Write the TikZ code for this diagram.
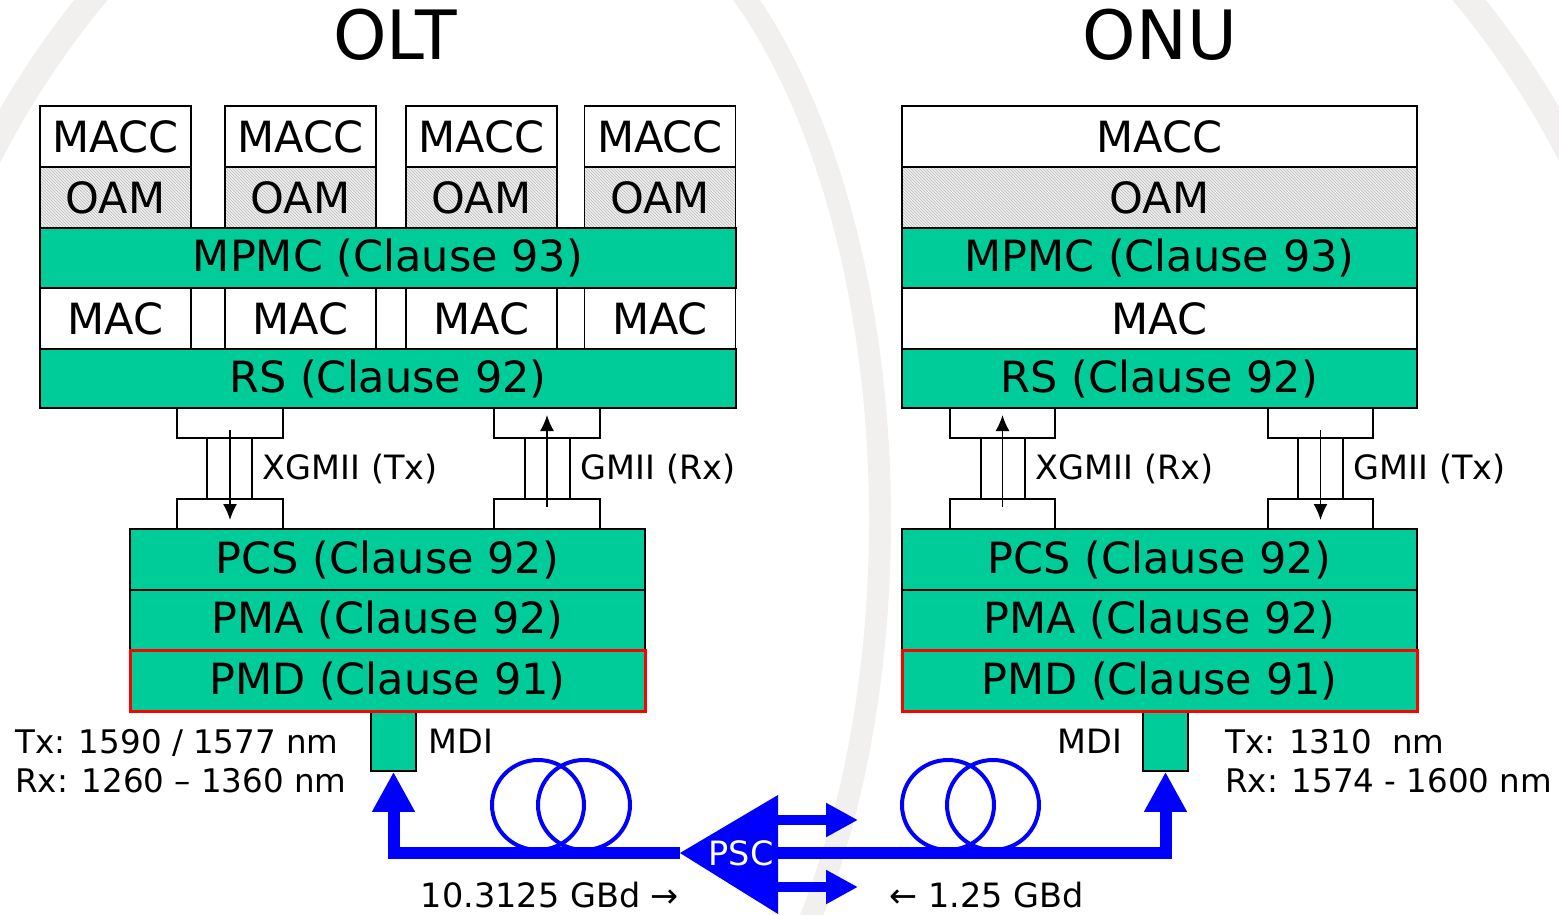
\documentclass[tikz,border=0pt]{standalone}
\usepackage{fontspec}
\setmainfont{DejaVu Sans}
\definecolor{ponGreen}{RGB}{0,204,153}
\definecolor{fibreBlue}{RGB}{0,0,255}
\definecolor{markRed}{RGB}{255,0,0}
\definecolor{wmGray}{RGB}{241,240,238}
\usetikzlibrary{arrows.meta, positioning, patterns}

\begin{document}
\begin{tikzpicture}[x=1pt, y=-1pt,
  layer/.style={draw, line width=1.5pt, minimum height=61pt, inner sep=0pt, font=\fontsize{43}{50}\selectfont},
  white layer/.style={layer, fill=white},
  green layer/.style={layer, fill=ponGreen},
  oam layer/.style={layer, preaction={fill=gray!12}, pattern=north west lines, pattern color=gray!55},
  pmd layer/.style={green layer, draw=markRed, line width=3pt},
  port/.style={draw, line width=1.5pt, fill=white, minimum width=106pt, minimum height=30pt, inner sep=0pt},
  pipe/.style={draw, line width=1.5pt, minimum width=45pt, minimum height=61pt, inner sep=0pt},
  sig/.style={line width=1.5pt, -{Latex[length=16pt, width=14pt]}},
  lbl/.style={inner sep=0pt, font=\fontsize{33.5}{39}\selectfont},
  wave/.style={inner sep=0pt, align=left, anchor=west, font=\fontsize{32.5}{39}\selectfont},
  title/.style={inner sep=0pt, font=\fontsize{68}{74}\selectfont},
  fibre/.style={fibreBlue, line width=12pt, line join=miter},
  coil/.style={fibreBlue, line width=4pt}]
  \useasboundingbox (0,0) rectangle (1559,914);

  % watermark
  \begin{scope}
    \clip (0,0) rectangle (1559,914);
    \draw[wmGray, line width=26pt] (780,560) circle[radius=888pt];
    \draw[wmGray, line width=22pt] (560,-120) arc[start angle=90, end angle=-90, x radius=320pt, y radius=640pt];
  \end{scope}

  \node[title] (oltTitle) at (395,35) {OLT};
  \node[title] (onuTitle) at (1160,35) {ONU};

  % OLT stack
  \foreach \cx [count=\i] in {115.5,300.5,481.5,660} {
    \node[white layer, minimum width=151pt] (oltMacc\i) at (\cx,136.5) {MACC};
    \node[oam layer, minimum width=151pt] (oltOam\i) at (\cx,197.5) {OAM};
    \node[white layer, minimum width=151pt] (oltMac\i) at (\cx,318.5) {MAC};
  }
  \node[green layer, minimum width=696pt, minimum height=60pt] (oltMpmc) at (388,258) {MPMC (Clause 93)};
  \node[green layer, minimum width=696pt, minimum height=59pt] (oltRs) at (388,378.5) {RS (Clause 92)};

  % ONU stack
  \node[white layer, minimum width=515pt] (onuMacc) at (1159.5,136.5) {MACC};
  \node[oam layer, minimum width=515pt] (onuOam) at (1159.5,197.5) {OAM};
  \node[green layer, minimum width=515pt, minimum height=60pt] (onuMpmc) at (1159.5,258) {MPMC (Clause 93)};
  \node[white layer, minimum width=515pt] (onuMac) at (1159.5,318.5) {MAC};
  \node[green layer, minimum width=515pt, minimum height=59pt] (onuRs) at (1159.5,378.5) {RS (Clause 92)};

  % OLT interfaces
  \node[port] (oltTxTop) at (230,423) {};
  \node[port] (oltTxBot) at (230,514) {};
  \node[pipe] (oltTxPipe) at (229.5,468.5) {};
  \draw[sig] ([yshift=-7pt]oltTxTop.center) -- ([yshift=-6pt]oltTxBot.center);
  \node[lbl, right=10pt of oltTxPipe] (oltTxLbl) {XGMII (Tx)};

  \node[port] (oltRxTop) at (547,423) {};
  \node[port] (oltRxBot) at (547,514) {};
  \node[pipe] (oltRxPipe) at (547.5,468.5) {};
  \draw[sig] ([yshift=7pt]oltRxBot.center) -- ([yshift=8pt]oltRxTop.center);
  \node[lbl, right=10pt of oltRxPipe] (oltRxLbl) {GMII (Rx)};

  % ONU interfaces
  \node[port, minimum width=105pt] (onuRxTop) at (1002.5,423) {};
  \node[port, minimum width=105pt] (onuRxBot) at (1002.5,514) {};
  \node[pipe, minimum width=44pt] (onuRxPipe) at (1003,468.5) {};
  \draw[sig] ([yshift=7pt]onuRxBot.center) -- ([yshift=8pt]onuRxTop.center);
  \node[lbl, right=10pt of onuRxPipe] (onuRxLbl) {XGMII (Rx)};

  \node[port, minimum width=105pt] (onuTxTop) at (1320.5,423) {};
  \node[port, minimum width=105pt] (onuTxBot) at (1320.5,514) {};
  \node[pipe] (onuTxPipe) at (1320.5,468.5) {};
  \draw[sig] ([yshift=-7pt]onuTxTop.center) -- ([yshift=-6pt]onuTxBot.center);
  \node[lbl, right=10pt of onuTxPipe] (onuTxLbl) {GMII (Tx)};

  % physical layers
  \node[green layer, minimum width=515pt] (oltPcs) at (387.5,559.5) {PCS (Clause 92)};
  \node[green layer, minimum width=515pt, minimum height=60pt] (oltPma) at (387.5,620) {PMA (Clause 92)};
  \node[green layer, minimum width=515pt] (onuPcs) at (1159.5,559.5) {PCS (Clause 92)};
  \node[green layer, minimum width=515pt, minimum height=60pt] (onuPma) at (1159.5,620) {PMA (Clause 92)};

  \node[green layer, minimum width=45pt, minimum height=60pt] (oltMdi) at (393.5,741) {};
  \node[green layer, minimum width=45pt, minimum height=60pt] (onuMdi) at (1165.5,741) {};

  \node[pmd layer, minimum width=515pt] (oltPmd) at (387.5,680.5) {PMD (Clause 91)};
  \node[pmd layer, minimum width=515pt] (onuPmd) at (1159.5,680.5) {PMD (Clause 91)};

  \node[lbl, right=12pt of oltMdi] (oltMdiLbl) {MDI};
  \node[lbl, left=20pt of onuMdi] (onuMdiLbl) {MDI};
  \node[wave] (oltWave) at (15,761.5) {Tx: 1590 / 1577 nm\\Rx: 1260 – 1360 nm};
  \node[wave] (onuWave) at (1225,761.5) {Tx: 1310~~nm\\Rx: 1574 - 1600 nm};

  % fibre plant
  \foreach \cx in {538,584,948,993}
    \draw[coil] (\cx,805) circle[x radius=46pt, y radius=45pt];

  \coordinate (pscTip) at (680,853);
  \coordinate (pscBase) at (778,853);
  \coordinate (splitUp) at (778,820);
  \coordinate (splitUpEnd) at (858,820);
  \coordinate (splitDn) at (778,887);
  \coordinate (splitDnEnd) at (858,887);
  \draw[fibre, -{Triangle[length=40pt, width=40pt]}] (pscTip) -| (oltMdi.south);
  \draw[fibre, -{Triangle[length=40pt, width=40pt]}] (pscBase) -| (onuMdi.south);
  \draw[fibre, line width=10pt, -{Triangle[length=32pt, width=32pt]}] (splitUp) -- (splitUpEnd);
  \draw[fibre, line width=10pt, -{Triangle[length=32pt, width=32pt]}] (splitDn) -- (splitDnEnd);
  \fill[fibreBlue] (pscTip) -- (778,795) -- (778,914) -- cycle;
  \node[lbl, text=white] (psc) at (741,853) {PSC};

  \node[lbl] (downRate) at (550,895) {10.3125 GBd →};
  \node[lbl] (upRate) at (987,895) {← 1.25 GBd};
\end{tikzpicture}
\end{document}
